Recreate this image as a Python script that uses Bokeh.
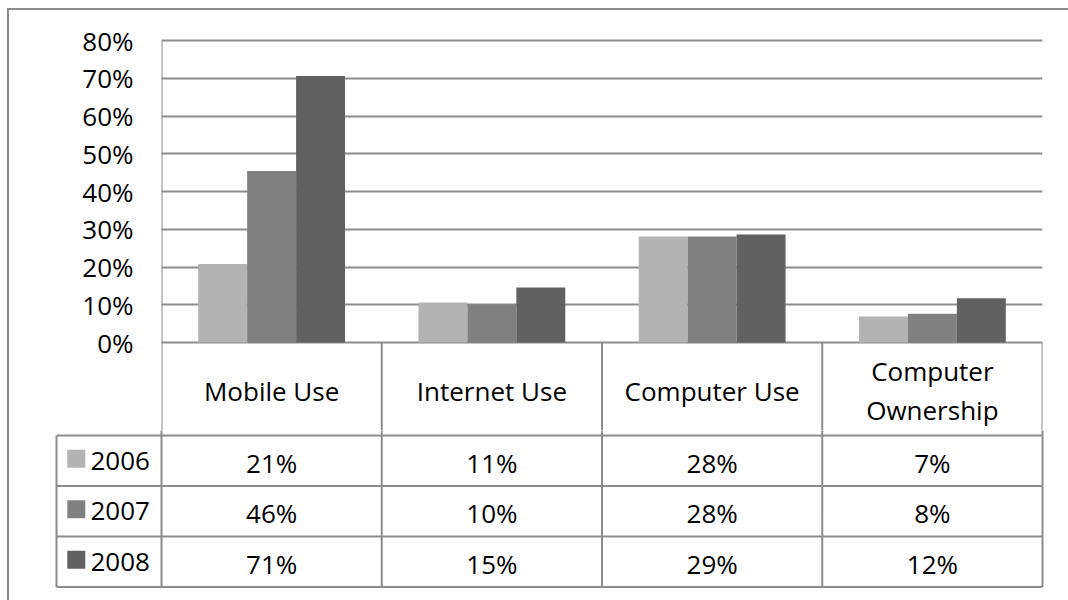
from bokeh.plotting import figure
from bokeh.layouts import column
from bokeh.models import Range1d, FixedTicker, PrintfTickFormatter, ColumnDataSource
from bokeh.core.properties import value
from bokeh.embed import file_html
from bokeh.resources import INLINE

# ---------------- data ----------------
categories = ["Mobile Use", "Internet Use", "Computer Use", "Computer\nOwnership"]
years = ["2006", "2007", "2008"]
values_2006 = [20.8, 10.6, 28.1, 6.9]
values_2007 = [45.4, 10.1, 28.1, 7.6]
values_2008 = [70.6, 14.6, 28.6, 11.7]
labels_2006 = ["21%", "11%", "28%", "7%"]
labels_2007 = ["46%", "10%", "28%", "8%"]
labels_2008 = ["71%", "15%", "29%", "12%"]
y_ticks = [0, 10, 20, 30, 40, 50, 60, 70, 80]
colors = ["#b3b3b3", "#808080", "#616161"]

series_values = [values_2006, values_2007, values_2008]
series_labels = [labels_2006, labels_2007, labels_2008]

FONT = "Open Sans"
FS = "26px"
GRID = "#8c8c8c"
PAGE_W, PAGE_H = 1068, 600
OX, OY = 9, 10          # where the figures start on the page (inside the outer border)
FW = PAGE_W - OX
ncat = len(categories)
bar_w = 1.0 / 4.5
ppu = 3.775             # pixels per percent
zero_y = 342            # page y of 0 %
top_y = 18              # page y of top of chart frame
split_y = 430           # page y where chart figure ends and table figure begins
left_x, right_x = 161, 1042


def bare(fig):
    if "frame_align" in fig.properties():
        fig.frame_align = False
    fig.outline_line_color = None
    fig.background_fill_color = "white"
    fig.border_fill_color = "white"
    return fig


# ---------------- chart (with table header) ----------------
y_top = (zero_y - top_y) / ppu
y_bot = -(split_y - zero_y) / ppu
A = bare(figure(width=FW, height=split_y - OY, x_range=Range1d(0, ncat), y_range=Range1d(y_bot, y_top),
                output_backend="svg", toolbar_location=None, x_axis_type=None,
                min_border_left=left_x - OX, min_border_right=FW - (right_x - OX),
                min_border_top=top_y - OY, min_border_bottom=0))
A.extra_y_ranges = {"page": Range1d(split_y, top_y)}

for j, vals in enumerate(series_values):
    xs = [i + 0.5 + (j - 1) * bar_w for i in range(ncat)]
    src = ColumnDataSource(dict(x=xs, top=vals))
    A.vbar(x="x", top="top", bottom=0, width=bar_w, source=src,
           fill_color=colors[j], line_color=None)

ax = A.yaxis[0]
ax.ticker = FixedTicker(ticks=y_ticks)
ax.formatter = PrintfTickFormatter(format="%d%%")
ax.major_tick_out = 0
ax.major_tick_in = 0
ax.minor_tick_out = 0
ax.minor_tick_in = 0
ax.major_label_standoff = 28
ax.major_label_text_font = FONT
ax.major_label_text_font_size = FS
ax.major_label_text_color = "black"
ax.axis_line_color = None

A.ygrid.ticker = FixedTicker(ticks=y_ticks)
A.ygrid.grid_line_color = GRID
A.ygrid.grid_line_width = 2
A.xgrid.grid_line_color = None

A.segment(x0=[0], y0=[max(y_ticks)], x1=[0], y1=[y_bot], line_color=GRID, line_width=2)
A.segment(x0=list(range(1, ncat + 1)), y0=[0] * ncat, x1=list(range(1, ncat + 1)),
          y1=[y_bot] * ncat, line_color=GRID, line_width=2)

A.text(x=[i + 0.5 for i in range(ncat)], y=[390] * ncat, text=categories, y_range_name="page",
       text_font=value(FONT), text_font_size=FS, text_align="center",
       text_baseline="middle", text_color="black", text_line_height=1.1)

# ---------------- data table body ----------------
px = (right_x - left_x) / ncat
B = bare(figure(width=FW, height=PAGE_H - split_y,
                x_range=Range1d((OX - left_x) / px, (PAGE_W - left_x) / px), y_range=Range1d(PAGE_H, split_y),
                output_backend="svg", toolbar_location=None,
                x_axis_type=None, y_axis_type=None, min_border=0))
B.xgrid.grid_line_color = None
B.ygrid.grid_line_color = None

header_bot = 435
row_h = 50.5
legend_left = -105 / px
row_lines = [header_bot + k * row_h for k in range(len(years) + 1)]
table_bottom = row_lines[-1]

B.segment(x0=[legend_left] * len(row_lines), y0=row_lines, x1=[ncat] * len(row_lines), y1=row_lines,
          line_color=GRID, line_width=2)
vx = list(range(ncat + 1))
B.segment(x0=vx, y0=[split_y - 2] * len(vx), x1=vx, y1=[table_bottom] * len(vx),
          line_color=GRID, line_width=2)
B.segment(x0=[legend_left], y0=[header_bot], x1=[legend_left], y1=[table_bottom],
          line_color=GRID, line_width=2)

row_centers = [header_bot + (k + 0.5) * row_h for k in range(len(years))]
for j, labs in enumerate(series_labels):
    yc = row_centers[j]
    B.text(x=[i + 0.5 for i in range(ncat)], y=[yc + 2] * ncat, text=labs,
           text_font=value(FONT), text_font_size=FS, text_align="center",
           text_baseline="middle", text_color="black")
    B.scatter(x=[-85.2 / px], y=[yc - 2], marker="square", size=18,
              fill_color=colors[j], line_color=None)
    B.text(x=[-71 / px], y=[yc], text=[years[j]],
           text_font=value(FONT), text_font_size=FS, text_align="left",
           text_baseline="middle", text_color="black")

layout = column(A, B, spacing=0, margin=(OY, 0, 0, OX),
                styles={"outline": "2px solid #8c8c8c"})
open("out.html", "w").write(file_html(layout, INLINE))
